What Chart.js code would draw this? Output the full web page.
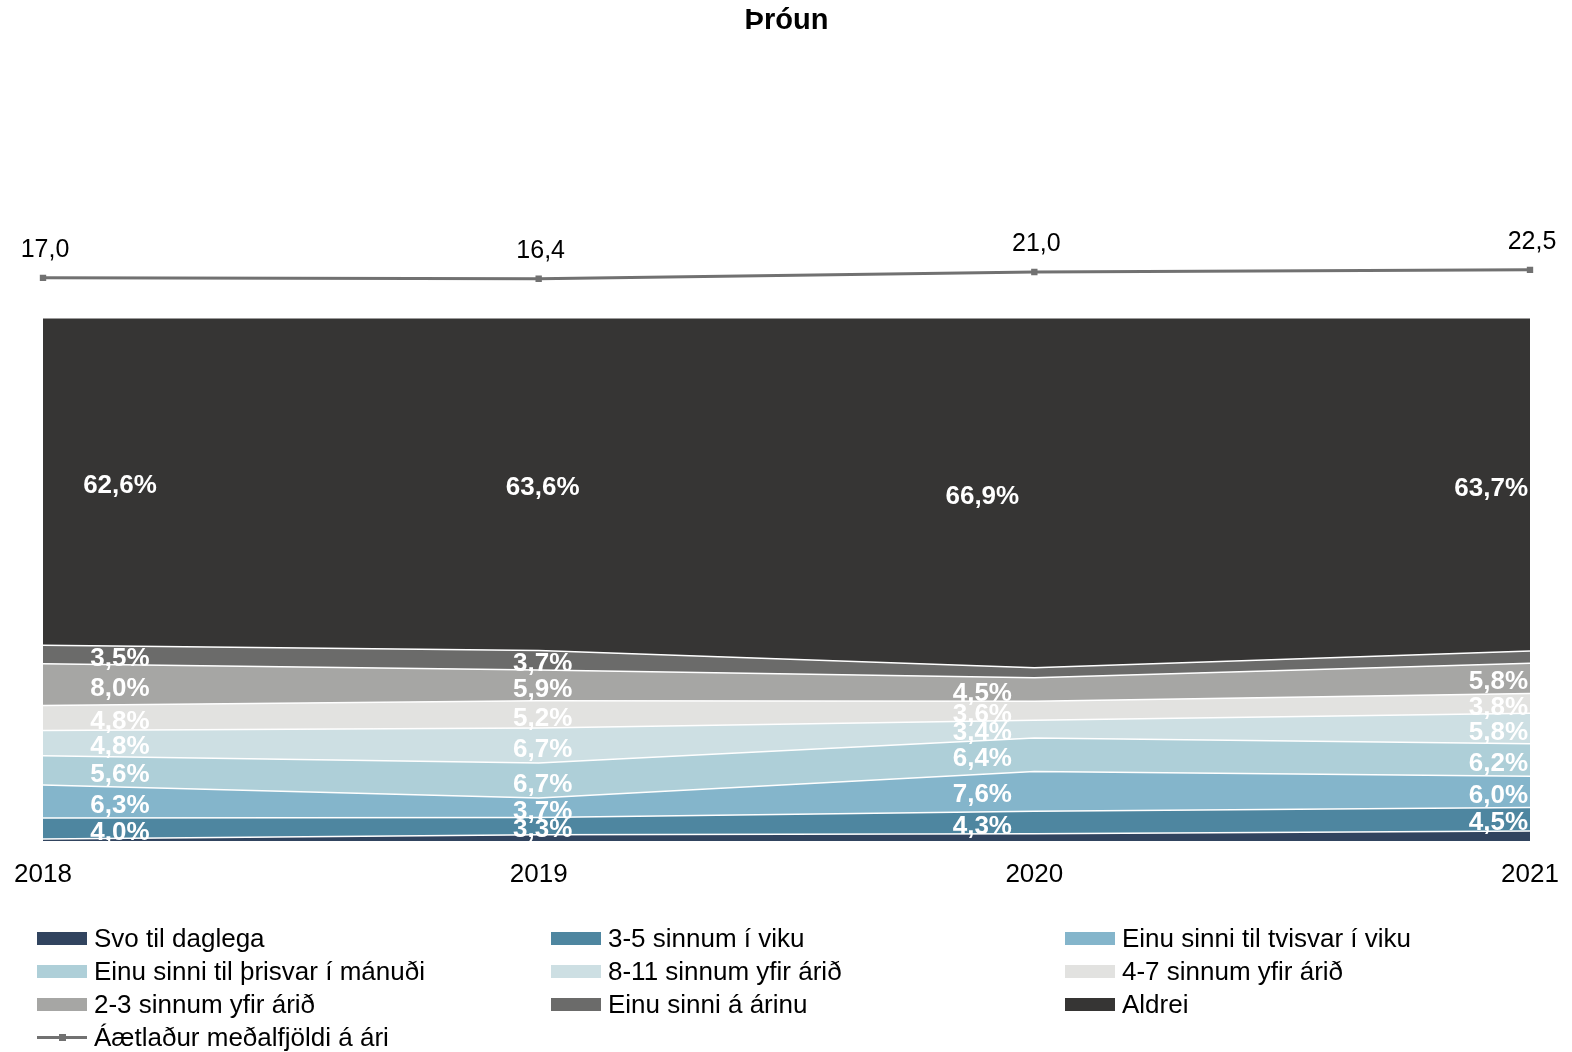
<!DOCTYPE html>
<html>
<head>
<meta charset="utf-8">
<script src="https://cdn.jsdelivr.net/npm/chart.js@4.4.1/dist/chart.umd.min.js"></script>
<style>
  html, body { margin: 0; padding: 0; background: #fff; }
  #wrap { position: relative; width: 1572px; height: 1052px; }
  #legend {
    position: absolute; left: 37px; top: 922px;
    font-family: Arial, "Liberation Sans", sans-serif; font-size: 26px; color: #000;
    display: grid; grid-template-columns: 514px 514px 500px;
  }
  .item { height: 33px; display: flex; align-items: center; white-space: nowrap; }
  .swatch { width: 50px; height: 13px; margin-right: 7px; flex: none; position: relative; }
</style>
</head>
<body>
<div id="wrap">
  <canvas id="chart" width="1572" height="1052"></canvas>
  <div id="legend"></div>
</div>
<script>
const FONT = 'Arial, "Liberation Sans", sans-serif'

// data
const years = ['2018', '2019', '2020', '2021']
const svoTilDaglega      = [0.4, 1.2, 1.4, 1.9]
const thrjuFimmViku      = [4.0, 3.3, 4.3, 4.5]
const einuTvisvarViku    = [6.3, 3.7, 7.6, 6.0]
const einuThrisvarManudi = [5.6, 6.7, 6.4, 6.2]
const attaEllefuAri      = [4.8, 6.7, 3.4, 5.8]
const fjorirSjoAri       = [4.8, 5.2, 3.6, 3.8]
const tveirThrirAri      = [8.0, 5.9, 4.5, 5.8]
const einuSinniAri       = [3.5, 3.7, 1.9, 2.3]
const aldrei             = [62.6, 63.6, 66.9, 63.7]
const medalfjoldi        = [17.0, 16.4, 21.0, 22.5]

const areaSeries = [
  { name: 'Svo til daglega', values: svoTilDaglega, color: '#31445f' },
  { name: '3-5 sinnum í viku', values: thrjuFimmViku, color: '#4e86a0' },
  { name: 'Einu sinni til tvisvar í viku', values: einuTvisvarViku, color: '#84b5cb' },
  { name: 'Einu sinni til þrisvar í mánuði', values: einuThrisvarManudi, color: '#aecfd8' },
  { name: '8-11 sinnum yfir árið', values: attaEllefuAri, color: '#cddfe3' },
  { name: '4-7 sinnum yfir árið', values: fjorirSjoAri, color: '#e2e2e0' },
  { name: '2-3 sinnum yfir árið', values: tveirThrirAri, color: '#a6a6a4' },
  { name: 'Einu sinni á árinu', values: einuSinniAri, color: '#6b6b6a' },
  { name: 'Aldrei', values: aldrei, color: '#363534' }
]
const lineName = 'Áætlaður meðalfjöldi á ári'
const lineColor = '#717171'

// label placement per year (2018 labels pushed right, 2020 left, 2021 right aligned)
const labelShift = [77, 4, -52, -2]
const labelAlign = ['center', 'center', 'center', 'right']

const fmt = v => v.toFixed(1).replace('.', ',')

const valueLabels = {
  id: 'valueLabels',
  afterDatasetsDraw(chart) {
    const c = chart.ctx
    const yScale = chart.scales.y
    c.save()
    c.textBaseline = 'middle'

    // percentages inside the bands
    c.font = 'bold 26px ' + FONT
    c.fillStyle = '#fff'
    areaSeries.forEach((s, i) => {
      const meta = chart.getDatasetMeta(i)
      const below = i > 0 ? chart.getDatasetMeta(i - 1) : null
      meta.data.forEach((pt, j) => {
        const v = s.values[j]
        if (v < 2.5) return
        const yBottom = below ? below.data[j].y : yScale.getPixelForValue(0)
        c.textAlign = labelAlign[j]
        c.fillText(fmt(v) + '%', pt.x + labelShift[j], (pt.y + yBottom) / 2 + 4)
      })
    })

    // average line values
    c.font = '25px ' + FONT
    c.fillStyle = '#000'
    c.textAlign = 'center'
    chart.getDatasetMeta(areaSeries.length).data.forEach((pt, j) => {
      c.fillText(fmt(medalfjoldi[j]), pt.x + 2, pt.y - 28)
    })

    // year labels
    c.font = '26px ' + FONT
    years.forEach((yr, j) => {
      c.fillText(yr, chart.scales.x.getPixelForValue(j), chart.chartArea.bottom + 34)
    })
    c.restore()
  }
}

const datasets = areaSeries.map((s, i) => ({
  label: s.name,
  data: s.values,
  backgroundColor: s.color,
  borderColor: '#ffffff',
  borderWidth: 1.5,
  fill: i === 0 ? 'origin' : '-1',
  pointRadius: 0,
  tension: 0,
  yAxisID: 'y'
}))
datasets.push({
  label: lineName,
  data: medalfjoldi,
  borderColor: lineColor,
  backgroundColor: lineColor,
  borderWidth: 3,
  fill: false,
  pointStyle: 'rect',
  pointRadius: 4.5,
  pointBackgroundColor: lineColor,
  pointBorderWidth: 0,
  tension: 0,
  yAxisID: 'y2'
})

new Chart(document.getElementById('chart'), {
  type: 'line',
  data: { labels: years, datasets: datasets },
  options: {
    responsive: false,
    animation: false,
    layout: { padding: { left: 43, right: 42, top: 0, bottom: 211 } },
    plugins: {
      legend: { display: false },
      tooltip: { enabled: false },
      title: {
        display: true,
        text: 'Þróun',
        color: '#000',
        font: { family: FONT, size: 29, weight: 'bold' },
        padding: { top: 4, bottom: 191 }
      }
    },
    scales: {
      x: { display: false, offset: false },
      y: { display: false, stacked: true, min: 0, max: 116.83 },
      y2: { display: false, min: -370, max: 50 }
    }
  },
  plugins: [valueLabels]
})

// legend
const legend = document.getElementById('legend')
areaSeries.forEach(s => {
  const item = document.createElement('div')
  item.className = 'item'
  item.innerHTML = '<span class="swatch" style="background:' + s.color + '"></span>' + s.name
  legend.appendChild(item)
})
const lineItem = document.createElement('div')
lineItem.className = 'item'
lineItem.innerHTML = '<span class="swatch"><span style="position:absolute;left:0;top:5px;width:50px;height:3px;background:' + lineColor + '"></span>' +
  '<span style="position:absolute;left:22px;top:3px;width:7px;height:7px;background:' + lineColor + '"></span></span>' + lineName
legend.appendChild(lineItem)
</script>
</body>
</html>
